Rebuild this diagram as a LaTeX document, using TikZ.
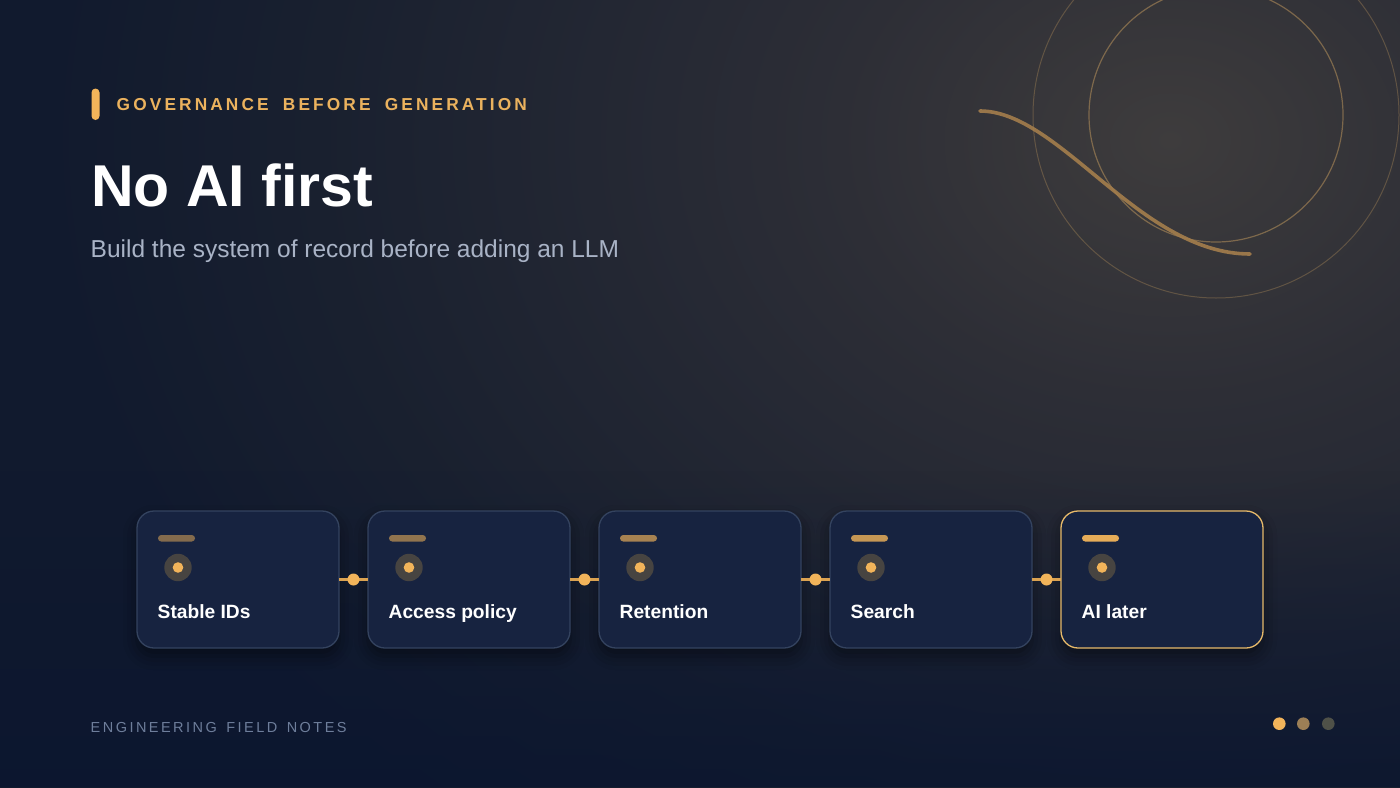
\documentclass[tikz,border=0pt]{standalone}
\usepackage{fontspec}
\setmainfont{Liberation Sans}
\usetikzlibrary{calc,fadings,shadows.blur}
\definecolor{bgbot}{HTML}{0B1630}
\definecolor{amber}{HTML}{F2B45A}
\definecolor{kicker}{HTML}{EBB25E}
\definecolor{cardfill}{HTML}{172340}
\definecolor{cardline}{HTML}{34435F}
\definecolor{cardhi}{HTML}{E6B96A}
\definecolor{subt}{HTML}{A9B3C6}
\definecolor{foot}{HTML}{6E7E9B}
\definecolor{ringc}{HTML}{C39A5E}
\definecolor{curvec}{HTML}{A47E4C}
\definecolor{knob}{HTML}{474441}
\definecolor{dottwo}{HTML}{9C7F56}
\definecolor{dotthree}{HTML}{4F5148}
\definecolor{gzero}{HTML}{3E3C3D}
\definecolor{gone}{HTML}{38373A}
\definecolor{gtwo}{HTML}{2D2E36}
\definecolor{gthree}{HTML}{232733}
\definecolor{gfour}{HTML}{19202F}
\definecolor{gfive}{HTML}{111A2E}
\pgfdeclareradialshading{bgglow}{\pgfpointorigin}{color(0bp)=(gzero); color(120bp)=(gone); color(330bp)=(gtwo); color(580bp)=(gthree); color(850bp)=(gfour); color(1120bp)=(gfive); color(1600bp)=(gfive)}
\tikzfading[name=fadeup, top color=transparent!100, bottom color=transparent!0]
\tikzset{
  card/.style={draw=cardline, line width=1.3pt, fill=cardfill, rounded corners=17pt,
    minimum width=202pt, minimum height=137pt, inner sep=0pt, outer sep=0pt,
    blur shadow={shadow xshift=0pt, shadow yshift=-8pt, shadow blur radius=14pt, shadow opacity=45}},
  lab/.style={inner sep=0pt, anchor=base west, text=white, font=\fontsize{19.2}{22}\selectfont\bfseries},
  conn/.style={draw=amber!90!black, line width=3.2pt},
}
\begin{document}
\begin{tikzpicture}[x=1pt,y=-1pt]
\useasboundingbox (0,0) rectangle (1400,787);
% background
\begin{scope}
\clip (0,0) rectangle (1400,787);
\pgftransformshift{\pgfpointxy{1170}{140}}
\pgftransformyscale{0.78}
\pgflowlevelsynccm
\pgfuseshading{bgglow}
\end{scope}
\fill[bgbot, path fading=fadeup, fill opacity=0.8] (0,470) rectangle (1400,787);
% rings and curve
\draw[ringc, opacity=.32, line width=1pt] (1216,115) circle (183pt);
\draw[ringc, opacity=.5, line width=1.2pt] (1216,115) circle (127pt);
\draw[curvec, opacity=.9, line width=3.6pt, line cap=round] (980,111) .. controls (1060,111) and (1140,254) .. (1250,254);
% header
\fill[amber, rounded corners=4pt] (91.5,88.5) rectangle (99.5,120);
\node[inner sep=0pt, anchor=base west, text=kicker] (kick) at (116.5,110.7)
  {\fontsize{17.3}{20}\selectfont\bfseries\addfontfeatures{LetterSpace=18}GOVERNANCE\hspace{6.3pt} BEFORE\hspace{6.3pt} GENERATION};
\node[inner sep=0pt, anchor=base west, text=white] (title) at (91,206)
  {\fontsize{59}{64}\selectfont\bfseries No AI first};
\node[inner sep=0pt, anchor=base west, text=subt] (sub) at (90.5,257.5)
  {\fontsize{24.5}{28}\selectfont Build the system of record before adding an LLM};
% cards
\foreach \i/\x/\lab/\op in {1/238/Stable IDs/0.5, 2/469/Access policy/0.56, 3/700/Retention/0.66, 4/931/Search/0.8, 5/1162/AI later/0.95}{
  \ifnum\i=5
    \node[card, draw=cardhi] (c\i) at (\x,579.5) {};
  \else
    \node[card] (c\i) at (\x,579.5) {};
  \fi
  \fill[amber, opacity=\op, rounded corners=3.2pt] ($(c\i.north west)+(21,24)$) rectangle ($(c\i.north west)+(58,30.5)$);
  \fill[knob] ($(c\i.north west)+(41,56.5)$) circle (13.7pt);
  \fill[amber] ($(c\i.north west)+(41,56.5)$) circle (5.3pt);
  \node[lab] (l\i) at ($(c\i.north west)+(20.5,107)$) {\lab};
}
% connectors
\foreach \a/\b in {1/2,2/3,3/4,4/5}{
  \draw[conn] (c\a.east) -- (c\b.west);
  \fill[amber] ($(c\a.east)!0.5!(c\b.west)$) circle (6pt);
}
% footer
\node[inner sep=0pt, anchor=base west, text=foot] (foot) at (90.5,732.7)
  {\fontsize{14.5}{17}\selectfont\addfontfeatures{LetterSpace=17}ENGINEERING\hspace{3pt} FIELD\hspace{3pt} NOTES};
\fill[amber] (1279.3,723.7) circle (6.3pt);
\fill[dottwo] (1303.3,723.7) circle (6.3pt);
\fill[dotthree] (1328.3,723.7) circle (6.3pt);
\end{tikzpicture}
\end{document}
